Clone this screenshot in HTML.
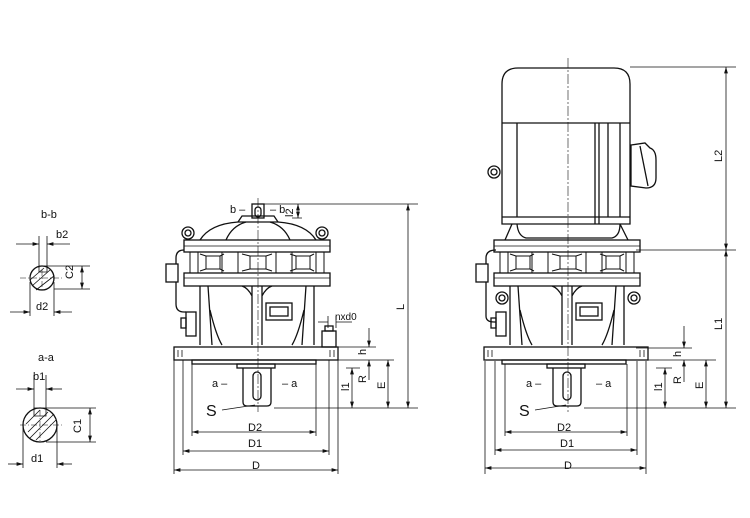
<!DOCTYPE html>
<html><head><meta charset="utf-8"><style>
html,body{margin:0;padding:0;background:#fff;}
svg{display:block;}
text{font-family:"Liberation Sans",sans-serif;fill:#111;}
</style></head><body>
<svg width="750" height="518" viewBox="0 0 750 518" xmlns="http://www.w3.org/2000/svg">
<defs>
<marker id="ar" viewBox="0 0 10 6" refX="10" refY="3" markerWidth="8" markerHeight="5" orient="auto-start-reverse"><path d="M0,0 L10,3 L0,6 z" fill="#111"/></marker>
<g id="gb" fill="none" stroke="#111" stroke-width="1.3">
 <rect x="-74" y="240" width="146" height="12"/>
 <line x1="-74" y1="246" x2="72" y2="246" stroke-width="0.7"/>
 <rect x="-74" y="273" width="146" height="13"/>
 <line x1="-74" y1="278" x2="72" y2="278" stroke-width="0.7"/>
 <g stroke-width="1">
 <line x1="-68" y1="252" x2="-68" y2="273"/><line x1="66" y1="252" x2="66" y2="273"/>
 <line x1="-60" y1="252" x2="-60" y2="273"/><line x1="58" y1="252" x2="58" y2="273"/>
 <line x1="-36" y1="252" x2="-36" y2="273"/><line x1="34" y1="252" x2="34" y2="273"/>
 <line x1="-20" y1="252" x2="-20" y2="273"/><line x1="18" y1="252" x2="18" y2="273"/>
 <rect x="-52" y="256" width="14" height="13"/><rect x="-8" y="256" width="16" height="13"/><rect x="38" y="256" width="14" height="13"/>
 <path d="M-58,254 L-52,256 M-58,271 L-52,269 M-38,256 L-34,254 M-38,269 L-34,271 M-16,254 L-8,256 M-16,271 L-8,269 M8,256 L14,254 M8,269 L14,271 M32,254 L38,256 M32,271 L38,269 M52,256 L56,254 M52,269 L56,271"/>
 </g>
 <path d="M-58,286 L-58,345 M-50,286 L-46,345 M56,286 L56,345 M48,286 L44,345 M-48,310 Q-42,335 -36,345 M46,310 Q40,335 34,345 M-6,286 L-6,345 M4,286 L4,345 M-6,296 Q-10,288 -16,286 M4,296 Q8,288 14,286"/>
 <rect x="8" y="303" width="26" height="17"/><rect x="12" y="307" width="18" height="9"/>
 <rect x="-84" y="347" width="164" height="13"/>
 <path d="M-80,350 v7 M-76,350 v7 M72,350 v7 M76,350 v7" stroke-width="0.8"/>
 <rect x="-66" y="360" width="124" height="4"/>
 <rect x="-21" y="364" width="38" height="4"/>
 <path d="M-15,368 L-15,402 Q-15,406 -11,406 L9,406 Q13,406 13,402 L13,368"/>
 <rect x="-5" y="372" width="8" height="28" rx="4"/>
</g>
</defs>
<g fill="none" stroke="#111" stroke-width="0.8">
<use href="#gb" x="258"/>
<line x1="258" y1="198" x2="258" y2="412" stroke-dasharray="10,2,2,2" stroke-width="0.6"/>
<g stroke-width="1.3">
<path d="M200,240 Q210,224 238,222 L278,222 Q306,224 316,240"/>
<path d="M226,240 Q232,226 246,222 M290,240 Q284,226 270,222 M238,222 L242,216 L274,216 L278,222"/>
<rect x="252" y="204" width="12" height="14"/><rect x="255" y="207" width="6" height="10" rx="3"/>
<circle cx="188" cy="233" r="6"/><circle cx="188" cy="233" r="3"/>
<circle cx="322" cy="233" r="6"/><circle cx="322" cy="233" r="3"/>
<path d="M184,250 Q176,250 176,258 L176,264 M176,282 L176,304 Q176,312 184,312 L186,312"/>
<rect x="166" y="264" width="12" height="18"/>
<rect x="186" y="312" width="10" height="24"/><rect x="181" y="318" width="5" height="10"/>
<rect x="322" y="331" width="14" height="16"/><rect x="325" y="326" width="8" height="5"/>
</g>
<use href="#gb" x="568"/>
<line x1="568" y1="58" x2="568" y2="412" stroke-dasharray="10,2,2,2" stroke-width="0.6"/>
<g stroke-width="1.3">
<path d="M502,224 L502,84 Q502,68 518,68 L614,68 Q630,68 630,84 L630,224 Z"/>
<line x1="502" y1="123" x2="630" y2="123"/><line x1="502" y1="217" x2="630" y2="217"/>
<path d="M517,123 L517,217 M595,123 L595,224 M599,123 L599,224 M608,123 L608,217 M620,123 L620,217"/>
<path d="M631,145 L645,143 L650,148 Q656,150 656,160 L656,178 Q656,188 646,188 L631,186 Z M640,146 L648,186"/>
<circle cx="494" cy="172" r="6"/><circle cx="494" cy="172" r="3"/>
<path d="M512,224 L505,240 M620,224 L628,240 M517,224 Q518,236 526,238 L612,238 Q620,236 620,224"/>
<circle cx="502" cy="298" r="6"/><circle cx="502" cy="298" r="3"/>
<circle cx="634" cy="298" r="6"/><circle cx="634" cy="298" r="3"/>
<path d="M496,250 Q486,250 486,258 L486,264 M486,282 L486,316 Q486,322 494,322 L496,322"/>
<rect x="476" y="264" width="12" height="18"/>
<rect x="496" y="312" width="10" height="24"/><rect x="491" y="318" width="5" height="10"/>
</g>
<path d="M264,204 H418 M292,218 H302 M300,360 H394 M326,347 H376 M274,408 H418 M346,368 H360"/>
<path d="M174,360 V474 M338,360 V474 M183,360 V455 M329,360 V455 M192,364 V436 M316,364 V436"/>
<line x1="192" y1="432" x2="316" y2="432" marker-start="url(#ar)" marker-end="url(#ar)"/>
<line x1="183" y1="451" x2="329" y2="451" marker-start="url(#ar)" marker-end="url(#ar)"/>
<line x1="174" y1="470" x2="338" y2="470" marker-start="url(#ar)" marker-end="url(#ar)"/>
<line x1="408" y1="204" x2="408" y2="408" marker-start="url(#ar)" marker-end="url(#ar)"/>
<line x1="388" y1="360" x2="388" y2="408" marker-start="url(#ar)" marker-end="url(#ar)"/>
<line x1="352" y1="368" x2="352" y2="408" marker-start="url(#ar)" marker-end="url(#ar)"/>
<line x1="369" y1="328" x2="369" y2="347" marker-end="url(#ar)"/>
<line x1="369" y1="380" x2="369" y2="360" marker-end="url(#ar)"/>
<line x1="298" y1="204" x2="298" y2="218" marker-start="url(#ar)" marker-end="url(#ar)"/>
<path d="M318,322 H328 M336,322 H352 M328,316 V328 M336,316 V328"/>
<path d="M222,410 L255,405"/>
<path d="M630,67 H736 M636,250 H736 M610,360 H716 M636,348 H692 M584,408 H736 M656,368 H672"/>
<path d="M485,361 V474 M646,361 V474 M495,361 V455 M637,361 V455 M505,364 V436 M627,364 V436"/>
<line x1="505" y1="432" x2="627" y2="432" marker-start="url(#ar)" marker-end="url(#ar)"/>
<line x1="495" y1="450" x2="637" y2="450" marker-start="url(#ar)" marker-end="url(#ar)"/>
<line x1="485" y1="468" x2="646" y2="468" marker-start="url(#ar)" marker-end="url(#ar)"/>
<line x1="726" y1="67" x2="726" y2="250" marker-start="url(#ar)" marker-end="url(#ar)"/>
<line x1="726" y1="250" x2="726" y2="408" marker-start="url(#ar)" marker-end="url(#ar)"/>
<line x1="706" y1="360" x2="706" y2="408" marker-start="url(#ar)" marker-end="url(#ar)"/>
<line x1="665" y1="368" x2="665" y2="408" marker-start="url(#ar)" marker-end="url(#ar)"/>
<line x1="684" y1="326" x2="684" y2="348" marker-end="url(#ar)"/>
<line x1="684" y1="382" x2="684" y2="360" marker-end="url(#ar)"/>
<path d="M535,410 L566,405"/>
<g stroke-width="1.3"><circle cx="42" cy="278" r="12"/><circle cx="40" cy="425" r="17"/></g>
<path d="M39,266 h8 v6 h-8 z M34,408 h12 v8 h-12 z"/>
<path d="M32,286 L50,270 M36,290 L54,276 M30,280 L44,268 M28,432 L48,412 M30,438 L54,414 M36,440 L56,420 M26,424 L40,410"/>
<path d="M20,278 H64 M42,270 V290 M20,425 H62 M40,410 V442" stroke-dasharray="6,2,1,2" stroke-width="0.5"/>
<path d="M39,236 V268 M47,236 V268 M30,282 V316 M54,282 V316 M47,266 H90 M54,289 H90 M34,408 V375 M46,408 V375 M23,425 V468 M57,425 V468 M46,408 H96 M46,442 H96"/>
<line x1="16" y1="244" x2="39" y2="244" marker-end="url(#ar)"/><line x1="70" y1="244" x2="47" y2="244" marker-end="url(#ar)"/>
<line x1="10" y1="312" x2="30" y2="312" marker-end="url(#ar)"/><line x1="72" y1="312" x2="54" y2="312" marker-end="url(#ar)"/>
<line x1="82" y1="266" x2="82" y2="289" marker-start="url(#ar)" marker-end="url(#ar)"/>
<line x1="16" y1="389" x2="34" y2="389" marker-end="url(#ar)"/><line x1="62" y1="389" x2="46" y2="389" marker-end="url(#ar)"/>
<line x1="8" y1="464" x2="23" y2="464" marker-end="url(#ar)"/><line x1="72" y1="464" x2="57" y2="464" marker-end="url(#ar)"/>
<line x1="90" y1="408" x2="90" y2="442" marker-start="url(#ar)" marker-end="url(#ar)"/>
</g>
<g font-size="11">
<text x="41" y="218">b-b</text><text x="56" y="238">b2</text><text x="36" y="310">d2</text>
<text x="38" y="361">a-a</text><text x="33" y="380">b1</text><text x="31" y="462">d1</text>
<text x="230" y="213">b –</text><text x="270" y="213">– b</text>
<text x="212" y="387">a –</text><text x="282" y="387">– a</text>
<text x="526" y="387">a –</text><text x="596" y="387">– a</text>
<text x="248" y="431">D2</text><text x="248" y="447">D1</text><text x="252" y="469">D</text>
<text x="557" y="431">D2</text><text x="560" y="447">D1</text><text x="564" y="469">D</text>
<text x="335" y="320" font-size="10">nxd0</text>
</g>
<g font-size="16"><text x="206" y="416">S</text><text x="519" y="416">S</text></g>
<g font-size="11">
<text transform="translate(73,279) rotate(-90)">C2</text>
<text transform="translate(81,433) rotate(-90)">C1</text>
<text transform="translate(293,217) rotate(-90)">l2</text>
<text transform="translate(404,310) rotate(-90)">L</text>
<text transform="translate(349,391) rotate(-90)">l1</text>
<text transform="translate(366,355) rotate(-90)">h</text>
<text transform="translate(366,383) rotate(-90)">R</text>
<text transform="translate(385,389) rotate(-90)">E</text>
<text transform="translate(722,162) rotate(-90)">L2</text>
<text transform="translate(722,330) rotate(-90)">L1</text>
<text transform="translate(662,391) rotate(-90)">l1</text>
<text transform="translate(681,357) rotate(-90)">h</text>
<text transform="translate(681,384) rotate(-90)">R</text>
<text transform="translate(703,389) rotate(-90)">E</text>
</g>
</svg>
</body></html>
